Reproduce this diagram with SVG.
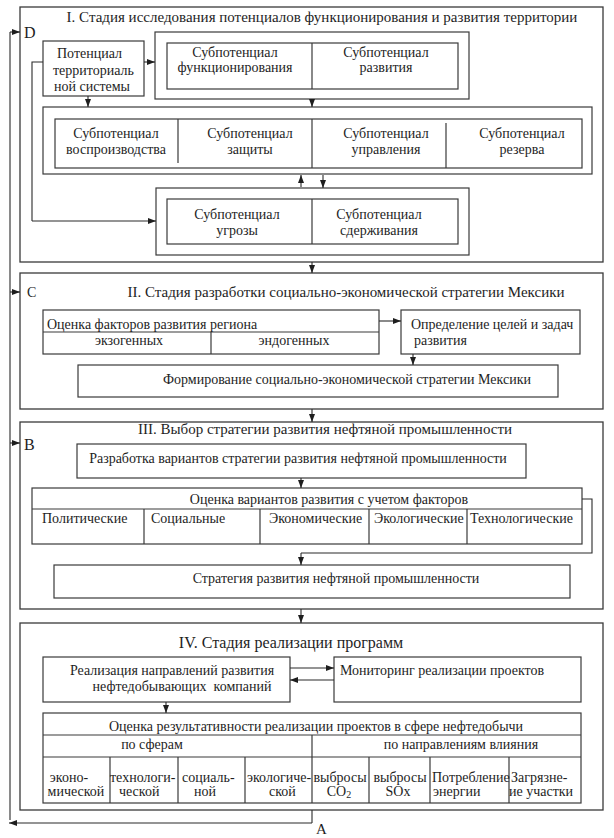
<svg xmlns="http://www.w3.org/2000/svg" width="614" height="838" viewBox="0 0 614 838">
<style>
.st{fill:#fff;stroke:#3a3a3a;stroke-width:1.3}
.bx{fill:#fff;stroke:#3a3a3a;stroke-width:1.2}
.dv{stroke:#3a3a3a;stroke-width:1.2;fill:none}
.ln{stroke:#2a2a2a;stroke-width:1.1;fill:none}
.ar{stroke:#2a2a2a;stroke-width:1.1;fill:none;marker-end:url(#ah)}
text{font-family:"Liberation Serif","Times New Roman",serif;font-size:14px;fill:#1e1e1e}
.c{text-anchor:middle}
.lbl{font-size:16px}
.tt{font-size:15px}
</style>
<defs>
<marker id="ah" viewBox="0 0 8 6" refX="8" refY="3" markerWidth="8" markerHeight="6" markerUnits="userSpaceOnUse" orient="auto">
<path d="M0,0 L8,3 L0,6 Z" fill="#1e1e1e"/>
</marker>
</defs>
<rect width="614" height="838" fill="#fff"/>

<!-- Stage containers -->
<g id="stage1">
<rect class="st" x="20" y="7" width="583" height="255"/>
<text class="c tt" x="322" y="22">I. Стадия исследования потенциалов функционирования и развития территории</text>
<text class="lbl" x="24" y="38">D</text>
</g>
<g id="stage2">
<rect class="st" x="20" y="273" width="583" height="136"/>
<text x="27" y="297">C</text>
<text class="c tt" x="346" y="297">II. Стадия разработки социально-экономической стратегии Мексики</text>
</g>
<g id="stage3">
<rect class="st" x="20" y="422" width="583" height="187"/>
<text class="c tt" x="325" y="434">III. Выбор стратегии развития нефтяной промышленности</text>
<text class="lbl" x="24" y="450">B</text>
</g>
<g id="stage4">
<rect class="st" x="20" y="623" width="583" height="187"/>
<text class="c" x="291" y="648" style="font-size:16px">IV. Стадия реализации программ</text>
</g>

<!-- Stage I nodes -->
<g id="potential">
<rect class="bx" x="43" y="41" width="101" height="55"/>
<text x="57" y="58">Потенциал</text>
<text x="53" y="75">территориаль</text>
<text x="54" y="91">ной системы</text>
</g>
<g id="func-dev">
<rect class="bx" x="155" y="32" width="314" height="67"/>
<rect class="bx" x="167" y="43" width="291" height="46"/>
<line class="dv" x1="312" y1="43" x2="312" y2="89"/>
<text class="c" x="235" y="57">Субпотенциал</text>
<text class="c" x="235" y="72">функционирования</text>
<text class="c" x="386" y="57">Субпотенциал</text>
<text class="c" x="386" y="72">развития</text>
</g>
<g id="four-sub">
<rect class="bx" x="43" y="107" width="549" height="67"/>
<rect class="bx" x="55" y="119" width="527" height="49"/>
<line class="dv" x1="178" y1="119" x2="178" y2="163"/>
<line class="dv" x1="312" y1="119" x2="312" y2="168"/>
<line class="dv" x1="446" y1="123" x2="446" y2="168"/>
<text class="c" x="116" y="138">Субпотенциал</text>
<text class="c" x="116" y="154">воспроизводства</text>
<text class="c" x="250" y="138">Субпотенциал</text>
<text class="c" x="250" y="154">защиты</text>
<text class="c" x="386" y="138">Субпотенциал</text>
<text class="c" x="386" y="154">управления</text>
<text class="c" x="522" y="138">Субпотенциал</text>
<text class="c" x="522" y="154">резерва</text>
</g>
<g id="threat">
<rect class="bx" x="156" y="188" width="313" height="67"/>
<rect class="bx" x="167" y="199" width="291" height="45"/>
<line class="dv" x1="312" y1="199" x2="312" y2="244"/>
<text class="c" x="237" y="219">Субпотенциал</text>
<text class="c" x="237" y="235">угрозы</text>
<text class="c" x="379" y="219">Субпотенциал</text>
<text class="c" x="379" y="235">сдерживания</text>
</g>

<!-- Stage II nodes -->
<g id="factors">
<rect class="bx" x="43" y="310" width="336" height="44"/>
<line class="dv" x1="43" y1="332" x2="379" y2="332"/>
<line class="dv" x1="211" y1="332" x2="211" y2="354"/>
<text x="47" y="329">Оценка факторов развития региона</text>
<text class="c" x="129" y="345">экзогенных</text>
<text class="c" x="294" y="345">эндогенных</text>
</g>
<g id="goals">
<rect class="bx" x="401" y="310" width="179" height="44"/>
<text x="411" y="329">Определение целей и задач</text>
<text x="414" y="345">развития</text>
</g>
<g id="forming">
<rect class="bx" x="78" y="365" width="480" height="32"/>
<text class="c" x="347" y="384">Формирование социально-экономической стратегии Мексики</text>
</g>

<!-- Stage III nodes -->
<g id="variants">
<rect class="bx" x="77" y="444" width="449" height="34"/>
<text class="c" x="298" y="463">Разработка вариантов стратегии развития нефтяной промышленности</text>
</g>
<g id="eval-variants">
<rect class="bx" x="32" y="488" width="550" height="56"/>
<line class="dv" x1="32" y1="509" x2="582" y2="509"/>
<line class="dv" x1="144" y1="509" x2="144" y2="544"/>
<line class="dv" x1="260" y1="509" x2="260" y2="544"/>
<line class="dv" x1="369" y1="509" x2="369" y2="544"/>
<line class="dv" x1="467" y1="509" x2="467" y2="544"/>
<text class="c" x="329" y="504">Оценка вариантов развития с учетом факторов</text>
<text x="42" y="523">Политические</text>
<text x="151" y="523">Социальные</text>
<text x="269" y="523">Экономические</text>
<text x="374" y="523">Экологические</text>
<text x="470" y="523">Технологические</text>
</g>
<g id="oil-strategy">
<rect class="bx" x="54" y="565" width="516" height="33"/>
<text class="c" x="336" y="583">Стратегия развития нефтяной промышленности</text>
</g>

<!-- Stage IV nodes -->
<g id="implementation">
<rect class="bx" x="43" y="657" width="247" height="45"/>
<text class="c" x="172" y="675">Реализация направлений развития</text>
<text class="c" x="182" y="691" xml:space="preserve">нефтедобывающих  компаний</text>
</g>
<g id="monitoring">
<rect class="bx" x="334" y="657" width="247" height="45"/>
<text class="c" x="442" y="675">Мониторинг реализации проектов</text>
</g>
<g id="efficiency">
<rect class="bx" x="43" y="713" width="538" height="90"/>
<line class="dv" x1="43" y1="735" x2="581" y2="735"/>
<line class="dv" x1="43" y1="757" x2="581" y2="757"/>
<line class="dv" x1="312" y1="735" x2="312" y2="803"/>
<line class="dv" x1="110" y1="757" x2="110" y2="803"/>
<line class="dv" x1="178" y1="757" x2="178" y2="803"/>
<line class="dv" x1="245" y1="757" x2="245" y2="803"/>
<line class="dv" x1="369" y1="757" x2="369" y2="803"/>
<line class="dv" x1="430" y1="757" x2="430" y2="803"/>
<line class="dv" x1="509" y1="757" x2="509" y2="803"/>
<text class="c" x="316" y="731">Оценка результативности реализации проектов в сфере нефтедобычи</text>
<text class="c" x="152" y="749">по сферам</text>
<text class="c" x="461" y="749">по направлениям влияния</text>
<text class="c" x="69" y="782">эконо-</text>
<text class="c" x="76" y="796">мической</text>
<text x="110" y="782">технологи-</text>
<text x="119" y="796">ческой</text>
<text x="182" y="782">социаль-</text>
<text x="194" y="796">ной</text>
<text x="247" y="782">экологиче-</text>
<text x="269" y="796">ской</text>
<text class="c" x="340" y="782">выбросы</text>
<text class="c" x="339" y="796">CO<tspan font-size="10" dy="2">2</tspan></text>
<text class="c" x="400" y="782">выбросы</text>
<text class="c" x="398" y="796">SOx</text>
<text x="432" y="782">Потребление</text>
<text x="433" y="796">энергии</text>
<text x="511" y="782">Загрязне-</text>
<text x="509" y="796">ие участки</text>
</g>

<!-- Connectors -->
<g id="connectors">
<path class="ln" d="M312,810 V823"/>
<path class="ar" d="M312,823 H9"/>
<path class="ln" d="M10,820 V32"/>
<path class="ar" d="M10,32 H20"/>
<path class="ar" d="M10,292 H20"/>
<path class="ar" d="M10,443 H20"/>
<text x="316" y="834" style="font-size:15px">A</text>
<path class="ar" d="M144,62 H155"/>
<path class="ln" d="M43,62 H32 V221"/>
<path class="ar" d="M32,221 H156"/>
<path class="ar" d="M88,96 V107"/>
<path class="ar" d="M312,99 V107"/>
<path class="ar" d="M301,187 V175"/>
<path class="ar" d="M323,175 V188"/>
<path class="ar" d="M312,262 V273"/>
<path class="ar" d="M312,409 V422"/>
<path class="ar" d="M301,609 V623"/>
<path class="ar" d="M379,321 H401"/>
<path class="ar" d="M413,354 V365"/>
<path class="ar" d="M301,478 V488"/>
<path class="ln" d="M582,499 H592 V553 H301"/>
<path class="ar" d="M301,553 V565"/>
<path class="ar" d="M290,668 H334"/>
<path class="ar" d="M334,680 H290"/>
<path class="ar" d="M166,702 V713"/>
</g>
</svg>
